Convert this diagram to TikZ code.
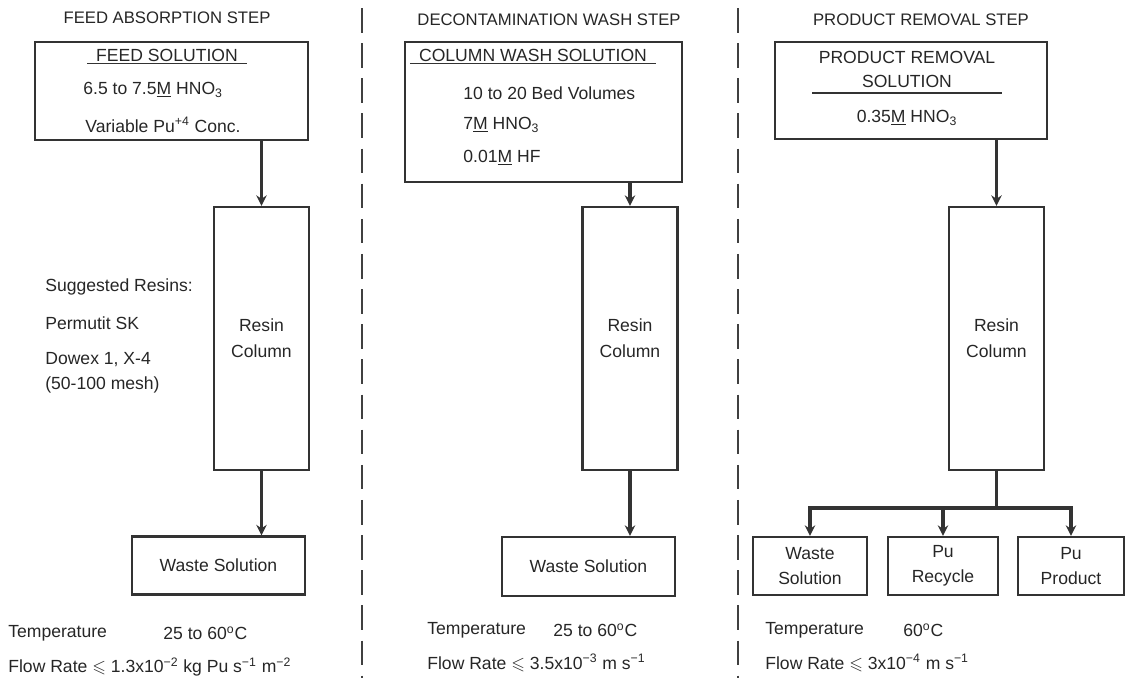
\documentclass[tikz,border=0pt]{standalone}
\usepackage{amssymb}
\usepackage{fontspec}
\setmainfont{Liberation Sans}
\usetikzlibrary{arrows.meta,positioning}

\begin{document}
\begin{tikzpicture}[x=0.02cm, y=-0.02cm,
	every node/.style={font=\fontsize{10}{12}\selectfont, text=black!85},
	caja/.style={rectangle, draw=black!80, line width=1.3pt, inner sep=0pt, minimum height=1.16cm, align=center},
	columna/.style={caja, minimum width=1.9cm, minimum height=5.26cm, font=\fontsize{10}{15}\selectfont},
	salida/.style={caja, minimum height=1.16cm, font=\fontsize{10}{14}\selectfont},
	titulo/.style={font=\fontsize{9.5}{11}\selectfont},
	texto/.style={anchor=west, inner sep=0pt},
	subraya/.style={draw=black!80, line width=0.9pt},
	flecha/.style={draw=black!80, line width=2pt, -{Stealth[length=6pt,width=6pt]}},
	linea/.style={draw=black!80, line width=2pt},
	separador/.style={draw=black!75, line width=1.4pt, dash pattern=on 14pt off 6pt}
	]
	\useasboundingbox (0,0) rectangle (1127,680);

	%Separadores
		\draw[separador] (362,8) -- (362,678);
		\draw[separador] (738,8) -- (738,678);

	%Primer paso: absorcion
		\node[titulo] (tit1) at (167,18) {FEED ABSORPTION STEP};
		\node[caja, minimum width=5.46cm, minimum height=1.96cm] (feed) at (171.5,91) {};
		\node[inner sep=1pt] (fs) at (167,55) {FEED SOLUTION};
		\draw[subraya] ([xshift=-4pt]fs.south west) -- ([xshift=4pt]fs.south east);
		\node[texto] (f1) at (83,90) {6.5 to 7.5\underline{M} HNO\textsubscript{3}};
		\node[texto] (f2) at (85,125) {Variable Pu\textsuperscript{+4} Conc.};
		\node[columna] (col1) at (261.5,338.5) {Resin\\Column};
		\node[salida, minimum width=3.46cm] (waste1) at (218.5,565.5) {Waste Solution};
		\node[texto] (r1) at (45,287) {Suggested Resins:};
		\node[texto] (r2) at (45,323) {Permutit SK};
		\node[texto] (r3) at (45,360) {Dowex 1, X-4};
		\node[texto] (r4) at (45,385) {(50-100 mesh)};
		\node[texto] (temp1) at (8,633) {Temperature};
		\node[texto] (val1) at (163,633) {25 to 60\textsuperscript{o}C};
		\node[texto] (flow1) at (8,667) {Flow Rate $\leqslant$ 1.3x10\textsuperscript{−2} kg Pu s\textsuperscript{−1} m\textsuperscript{−2}};
		\draw[flecha] (feed.south -| col1.north) -- (col1.north);
		\draw[flecha] (col1.south) -- (col1.south |- waste1.north);

	%Segundo paso: lavado
		\node[titulo] (tit2) at (549,20) {DECONTAMINATION WASH STEP};
		\node[caja, minimum width=5.54cm, minimum height=2.8cm] (wash) at (543.5,112) {};
		\node[inner sep=1pt] (ws) at (533,55) {COLUMN WASH SOLUTION};
		\draw[subraya] ([xshift=-4pt]ws.south west) -- ([xshift=4pt]ws.south east);
		\node[texto] (w1) at (463,93) {10 to 20 Bed Volumes};
		\node[texto] (w2) at (463,125) {7\underline{M} HNO\textsubscript{3}};
		\node[texto] (w3) at (463,158) {0.01\underline{M} HF};
		\node[columna] (col2) at (630,338.5) {Resin\\Column};
		\node[salida, minimum width=3.46cm, minimum height=1.18cm] (waste2) at (588.5,566.5) {Waste Solution};
		\node[texto] (temp2) at (427,630) {Temperature};
		\node[texto] (val2) at (553,630) {25 to 60\textsuperscript{o}C};
		\node[texto] (flow2) at (427,663) {Flow Rate $\leqslant$ 3.5x10\textsuperscript{−3} m s\textsuperscript{−1}};
		\draw[flecha] (wash.south -| col2.north) -- (col2.north);
		\draw[flecha] (col2.south) -- (col2.south |- waste2.north);

	%Tercer paso: remocion del producto
		\node[titulo] (tit3) at (921,20) {PRODUCT REMOVAL STEP};
		\node[caja, minimum width=5.44cm, minimum height=1.94cm] (prod) at (911,90.5) {};
		\node[inner sep=1pt] (ps1) at (907,57) {PRODUCT REMOVAL};
		\node[inner sep=1pt] (ps2) at (907,81) {SOLUTION};
		\coordinate (u1) at (812,93);
		\coordinate (u2) at (1002,93);
		\draw[subraya] (u1) -- (u2);
		\node (p1) at (907,118) {0.35\underline{M} HNO\textsubscript{3}};
		\node[columna] (col3) at (996.5,338.5) {Resin\\Column};
		\node[salida, minimum width=2.28cm] (waste3) at (810,566) {Waste\\Solution};
		\node[salida, minimum width=2.2cm] (recycle) at (943,566) {Pu\\Recycle};
		\node[salida, minimum width=2.12cm] (product) at (1071,566) {Pu\\Product};
		\node[texto] (temp3) at (765,630) {Temperature};
		\node[texto] (val3) at (903,630) {60\textsuperscript{o}C};
		\node[texto] (flow3) at (765,663) {Flow Rate $\leqslant$ 3x10\textsuperscript{−4} m s\textsuperscript{−1}};
		\draw[flecha] (prod.south -| col3.north) -- (col3.north);
	%Ramas hacia las tres salidas
		\coordinate (rama) at (996.5,508);
		\draw[linea] (col3.south) -- (rama);
		\draw[flecha] (rama) -| (waste3.north);
		\draw[flecha] (rama) -| (recycle.north);
		\draw[flecha] (rama) -| (product.north);

\end{tikzpicture}
\end{document}
